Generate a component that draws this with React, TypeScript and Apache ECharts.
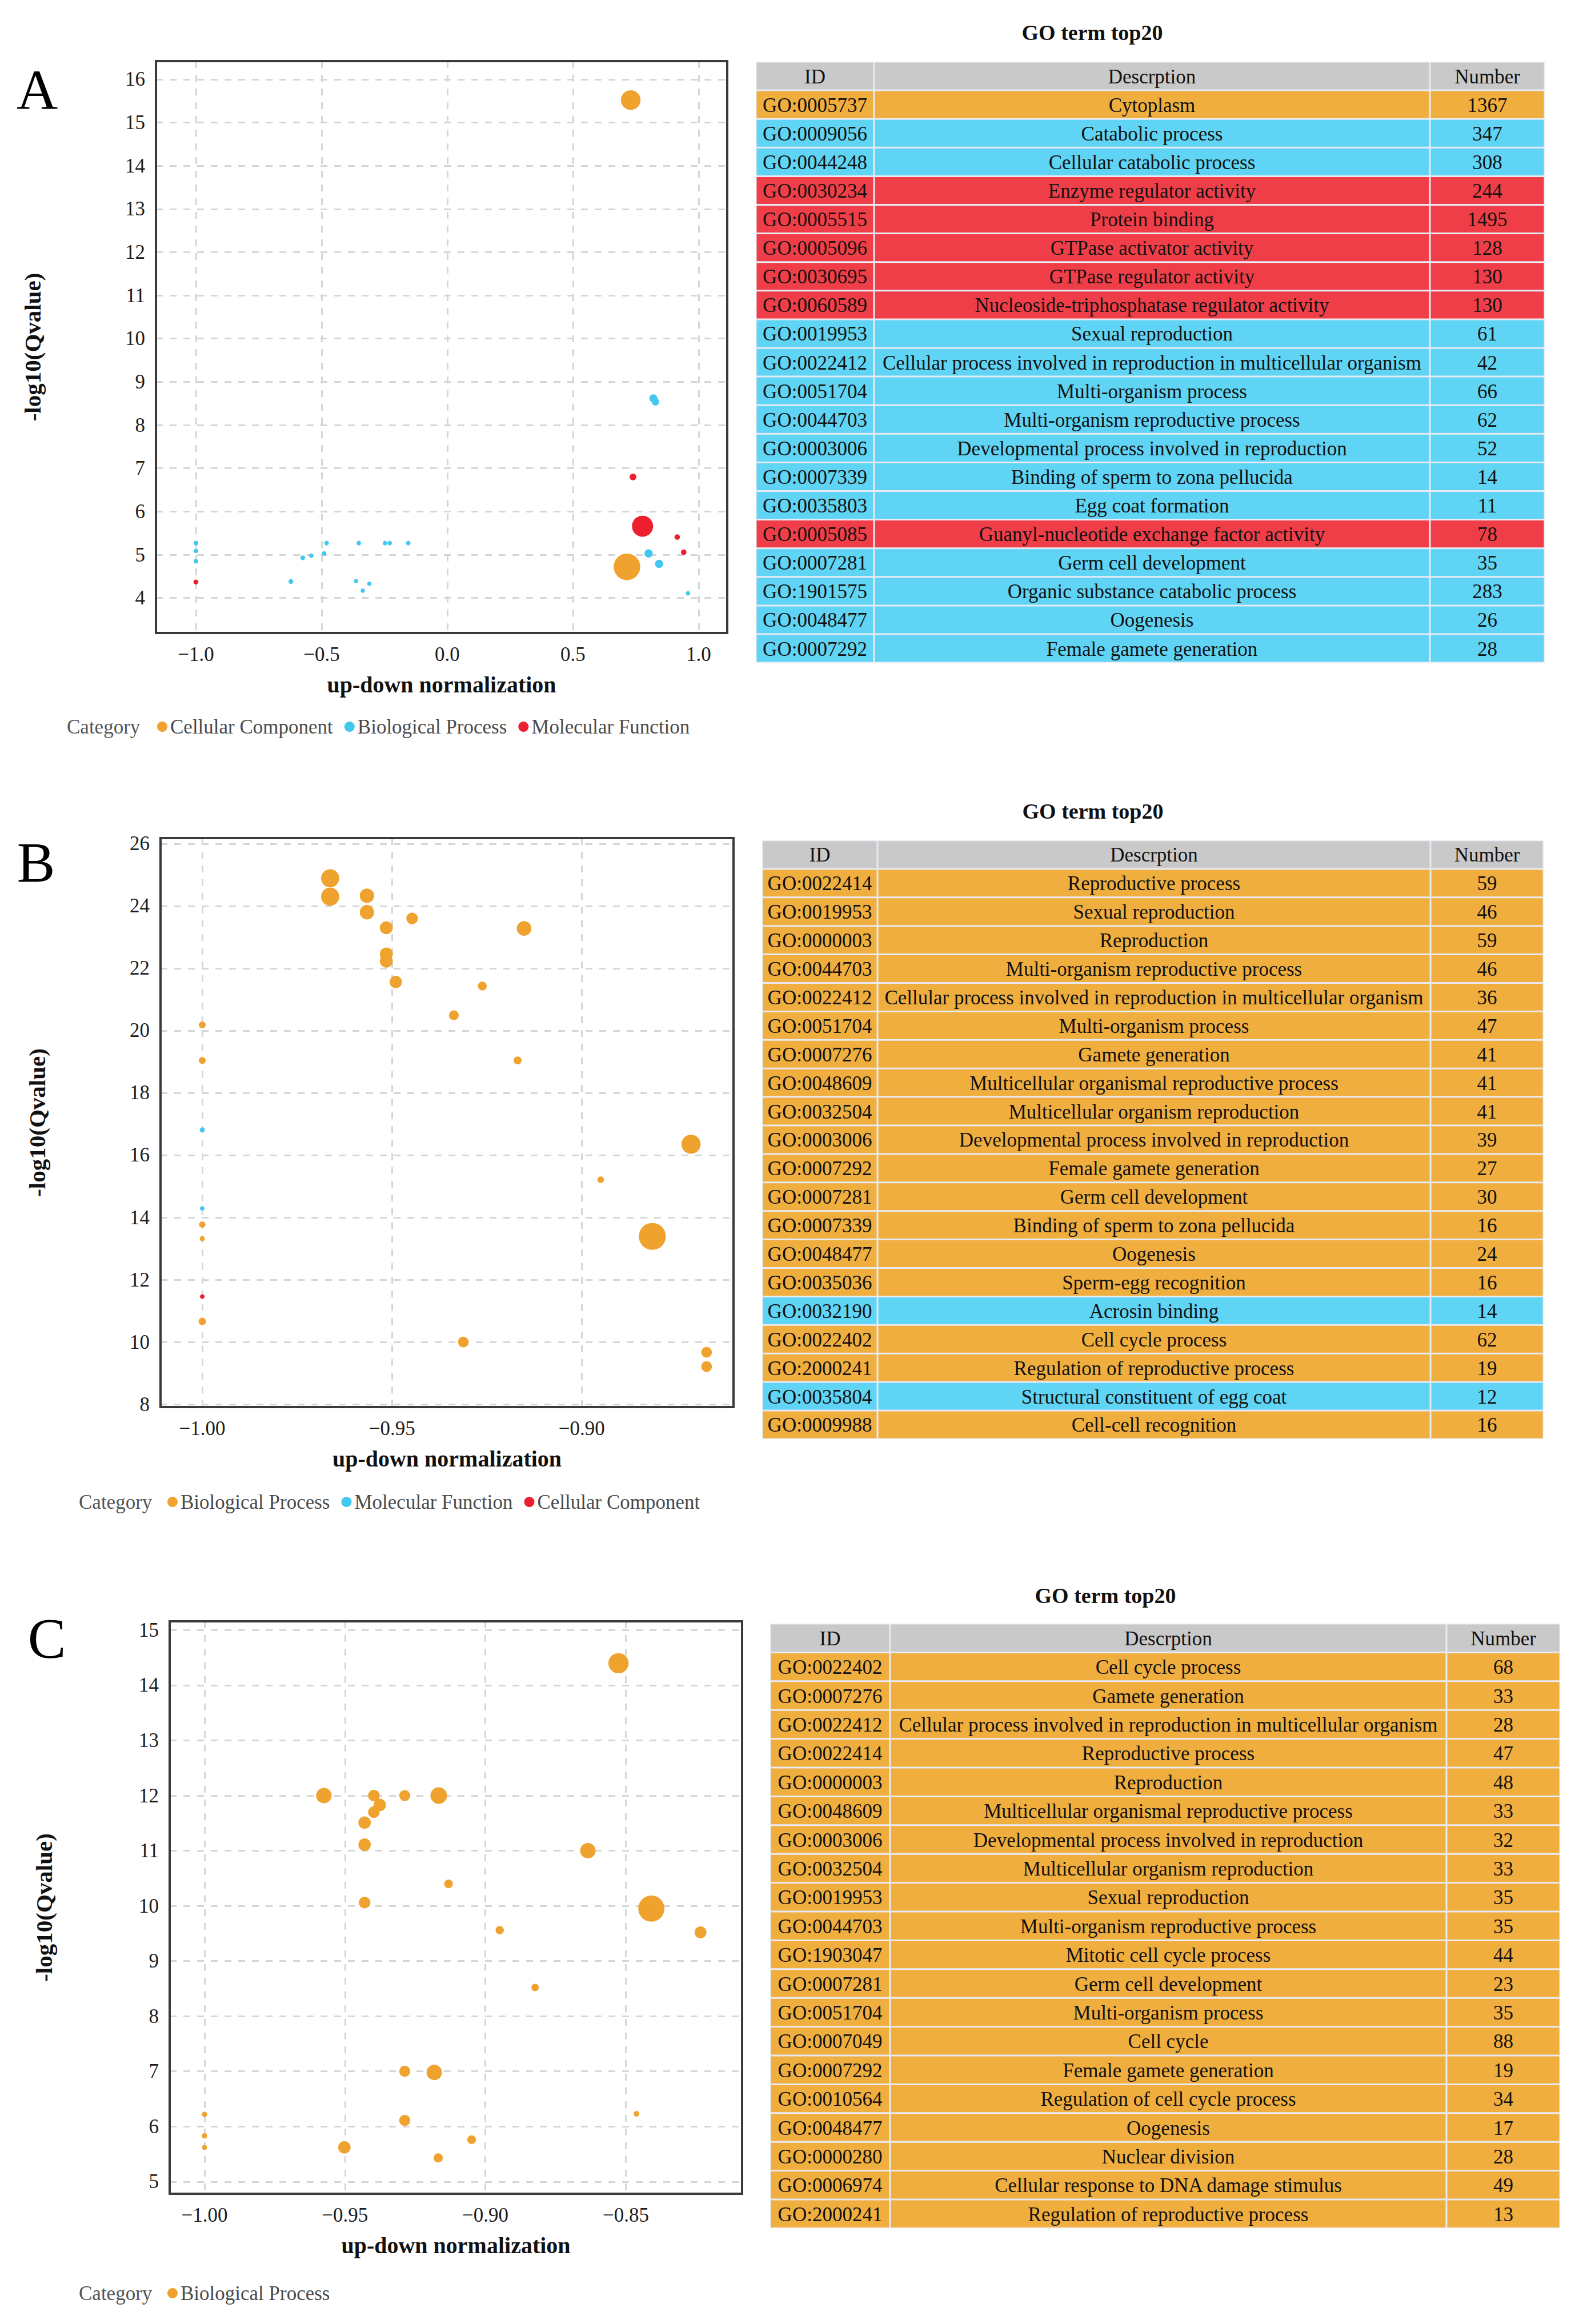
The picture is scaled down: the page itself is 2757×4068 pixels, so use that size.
import React, { useEffect, useRef } from "react";
import * as echarts from "echarts";

const FONT = '"Liberation Serif", "Times New Roman", Times, serif';

// ---------------- Scatter data: [up-down normalization, -log10(Qvalue), gene number]
// Panel A
const aCellularComponent: number[][] = [
  [0.73, 15.52, 1367],
  [0.715, 4.72, 1975],
];
const aBiologicalProcess: number[][] = [
  [0.82, 8.62, 347],
  [0.828, 8.54, 308],
  [0.801, 5.03, 375],
  [0.843, 4.79, 375],
  [0.958, 4.11, 35],
  [-1.0, 5.27, 61],
  [-1.0, 5.09, 42],
  [-1.0, 4.85, 52],
  [-0.622, 4.38, 66],
  [-0.575, 4.93, 62],
  [-0.541, 4.98, 40],
  [-0.49, 5.03, 45],
  [-0.48, 5.27, 52],
  [-0.352, 5.27, 50],
  [-0.363, 4.39, 26],
  [-0.336, 4.17, 28],
  [-0.31, 4.33, 35],
  [-0.248, 5.27, 50],
  [-0.229, 5.27, 50],
  [-0.155, 5.27, 50],
];
const aMolecularFunction: number[][] = [
  [0.739, 6.8, 244],
  [0.777, 5.66, 1495],
  [0.915, 5.41, 130],
  [0.941, 5.06, 128],
  [-1.0, 4.37, 78],
];

// Panel B
const bBiologicalProcess: number[][] = [
  [-0.9663, 24.89, 59],
  [-0.9663, 24.3, 59],
  [-0.9566, 24.33, 46],
  [-0.9566, 23.8, 46],
  [-0.9447, 23.6, 36],
  [-0.9515, 23.3, 41],
  [-0.9152, 23.28, 47],
  [-0.9515, 22.46, 41],
  [-0.9515, 22.23, 41],
  [-0.949, 21.56, 39],
  [-0.9262, 21.43, 27],
  [-0.9337, 20.49, 30],
  [-1.0, 20.18, 20],
  [-0.9169, 19.04, 24],
  [-1.0, 19.04, 20],
  [-0.8712, 16.35, 62],
  [-0.895, 15.21, 19],
  [-1.0, 13.77, 18],
  [-0.8814, 13.39, 89],
  [-1.0, 13.32, 14],
  [-1.0, 10.66, 22],
  [-0.9312, 10.0, 33],
  [-0.8671, 9.67, 33],
  [-0.8671, 9.21, 33],
];
const bMolecularFunction: number[][] = [
  [-1.0, 16.81, 14],
  [-1.0, 14.29, 12],
];
const bCellularComponent: number[][] = [[-1.0, 11.46, 12]];

// Panel C
const cBiologicalProcess: number[][] = [
  [-0.8526, 14.4, 68],
  [-0.9575, 12.0, 52],
  [-0.9397, 12.0, 39],
  [-0.9287, 12.0, 37],
  [-0.9166, 12.0, 56],
  [-0.9376, 11.83, 42],
  [-0.9397, 11.7, 39],
  [-0.943, 11.51, 42],
  [-0.943, 11.11, 42],
  [-0.8635, 11.0, 52],
  [-0.9131, 10.4, 29],
  [-0.943, 10.06, 39],
  [-0.8409, 9.95, 88],
  [-0.8949, 9.56, 28],
  [-0.8234, 9.52, 40],
  [-0.8823, 8.52, 25],
  [-0.9287, 7.0, 37],
  [-0.9182, 6.98, 52],
  [-1.0, 6.22, 18],
  [-0.8462, 6.23, 19],
  [-0.9287, 6.11, 37],
  [-1.0, 5.83, 18],
  [-1.0, 5.62, 17],
  [-0.9502, 5.62, 42],
  [-0.9049, 5.76, 29],
  [-0.9168, 5.43, 31],
];

// ---------------- Tables
const tableHeader = ["ID", "Descrption", "Number"];

const aIds = [
  "GO:0005737", "GO:0009056", "GO:0044248", "GO:0030234", "GO:0005515",
  "GO:0005096", "GO:0030695", "GO:0060589", "GO:0019953", "GO:0022412",
  "GO:0051704", "GO:0044703", "GO:0003006", "GO:0007339", "GO:0035803",
  "GO:0005085", "GO:0007281", "GO:1901575", "GO:0048477", "GO:0007292",
];
const aDesc = [
  "Cytoplasm", "Catabolic process", "Cellular catabolic process", "Enzyme regulator activity",
  "Protein binding", "GTPase activator activity", "GTPase regulator activity",
  "Nucleoside-triphosphatase regulator activity", "Sexual reproduction",
  "Cellular process involved in reproduction in multicellular organism",
  "Multi-organism process", "Multi-organism reproductive process",
  "Developmental process involved in reproduction", "Binding of sperm to zona pellucida",
  "Egg coat formation", "Guanyl-nucleotide exchange factor activity", "Germ cell development",
  "Organic substance catabolic process", "Oogenesis", "Female gamete generation",
];
const aNum = [1367, 347, 308, 244, 1495, 128, 130, 130, 61, 42, 66, 62, 52, 14, 11, 78, 35, 283, 26, 28];
const aCat = ["CC", "BP", "BP", "MF", "MF", "MF", "MF", "MF", "BP", "BP", "BP", "BP", "BP", "BP", "BP", "MF", "BP", "BP", "BP", "BP"];

const bIds = [
  "GO:0022414", "GO:0019953", "GO:0000003", "GO:0044703", "GO:0022412",
  "GO:0051704", "GO:0007276", "GO:0048609", "GO:0032504", "GO:0003006",
  "GO:0007292", "GO:0007281", "GO:0007339", "GO:0048477", "GO:0035036",
  "GO:0032190", "GO:0022402", "GO:2000241", "GO:0035804", "GO:0009988",
];
const bDesc = [
  "Reproductive process", "Sexual reproduction", "Reproduction", "Multi-organism reproductive process",
  "Cellular process involved in reproduction in multicellular organism", "Multi-organism process",
  "Gamete generation", "Multicellular organismal reproductive process",
  "Multicellular organism reproduction", "Developmental process involved in reproduction",
  "Female gamete generation", "Germ cell development", "Binding of sperm to zona pellucida",
  "Oogenesis", "Sperm-egg recognition", "Acrosin binding", "Cell cycle process",
  "Regulation of reproductive process", "Structural constituent of egg coat", "Cell-cell recognition",
];
const bNum = [59, 46, 59, 46, 36, 47, 41, 41, 41, 39, 27, 30, 16, 24, 16, 14, 62, 19, 12, 16];
const bCat = ["BP", "BP", "BP", "BP", "BP", "BP", "BP", "BP", "BP", "BP", "BP", "BP", "BP", "BP", "BP", "MF", "BP", "BP", "MF", "BP"];

const cIds = [
  "GO:0022402", "GO:0007276", "GO:0022412", "GO:0022414", "GO:0000003",
  "GO:0048609", "GO:0003006", "GO:0032504", "GO:0019953", "GO:0044703",
  "GO:1903047", "GO:0007281", "GO:0051704", "GO:0007049", "GO:0007292",
  "GO:0010564", "GO:0048477", "GO:0000280", "GO:0006974", "GO:2000241",
];
const cDesc = [
  "Cell cycle process", "Gamete generation",
  "Cellular process involved in reproduction in multicellular organism", "Reproductive process",
  "Reproduction", "Multicellular organismal reproductive process",
  "Developmental process involved in reproduction", "Multicellular organism reproduction",
  "Sexual reproduction", "Multi-organism reproductive process", "Mitotic cell cycle process",
  "Germ cell development", "Multi-organism process", "Cell cycle", "Female gamete generation",
  "Regulation of cell cycle process", "Oogenesis", "Nuclear division",
  "Cellular response to DNA damage stimulus", "Regulation of reproductive process",
];
const cNum = [68, 33, 28, 47, 48, 33, 32, 33, 35, 35, 44, 23, 35, 88, 19, 34, 17, 28, 49, 13];
const cCat = Array(20).fill("BP");

// ---------------- Styles
const ORANGE = "#EFA22E";
const CYAN = "#44C7EF";
const RED = "#EC1F2E";
const ROW_ORANGE = "#F0AE3E";
const ROW_BLUE = "#5FD4F4";
const ROW_RED = "#EF3E48";
const ROW_HEADER = "#C9C9C9";
const ROW_GAP = "#E9EBF4";

type SeriesDef = { name: string; data: number[][]; color: string };
type Panel = {
  key: string;
  grid: { left: number; top: number; width: number; height: number };
  x: { min: number; max: number; step: number; dec: number };
  y: { min: number; max: number; step: number };
  yNameGap: number;
  size: (n: number) => number;
  series: SeriesDef[];
  legend: { left: number; top: number };
  category: { x: number; y: number };
  letter: { text: string; x: number; y: number };
  table: {
    cols: number[];
    top: number;
    rowH: number;
    titleX: number;
    titleY: number;
    ids: string[];
    desc: string[];
    num: number[];
    cat: string[];
    colors: Record<string, string>;
  };
};

const panels: Panel[] = [
  {
    key: "A",
    grid: { left: 273, top: 107, width: 1000, height: 1001 },
    x: { min: -1.159, max: 1.114, step: 0.5, dec: 1 },
    y: { min: 3.19, max: 16.42, step: 1 },
    yNameGap: 196,
    size: (n) => 7 + 0.02 * n,
    series: [
      { name: "Cellular Component", data: aCellularComponent, color: ORANGE },
      { name: "Biological Process", data: aBiologicalProcess, color: CYAN },
      { name: "Molecular Function", data: aMolecularFunction, color: RED },
    ],
    legend: { left: 275, top: 1252 },
    category: { x: 117, y: 1272 },
    letter: { text: "A", x: 65, y: 157 },
    table: {
      cols: [1323, 1530, 2503, 2704],
      top: 108,
      rowH: 50.1,
      titleX: 1912,
      titleY: 57,
      ids: aIds,
      desc: aDesc,
      num: aNum,
      cat: aCat,
      colors: { CC: ROW_ORANGE, BP: ROW_BLUE, MF: ROW_RED },
    },
  },
  {
    key: "B",
    grid: { left: 281, top: 1467, width: 1003, height: 996 },
    x: { min: -1.011, max: -0.86, step: 0.05, dec: 2 },
    y: { min: 7.91, max: 26.18, step: 2 },
    yNameGap: 196,
    size: (n) => 1.8 + 0.51 * n,
    series: [
      { name: "Biological Process", data: bBiologicalProcess, color: ORANGE },
      { name: "Molecular Function", data: bMolecularFunction, color: CYAN },
      { name: "Cellular Component", data: bCellularComponent, color: RED },
    ],
    legend: { left: 293, top: 2609 },
    category: { x: 138, y: 2629 },
    letter: { text: "B", x: 63, y: 1509 },
    table: {
      cols: [1334, 1536, 2504, 2702],
      top: 1471,
      rowH: 49.9,
      titleX: 1913,
      titleY: 1420,
      ids: bIds,
      desc: bDesc,
      num: bNum,
      cat: bCat,
      colors: { BP: ROW_ORANGE, MF: ROW_BLUE },
    },
  },
  {
    key: "C",
    grid: { left: 297, top: 2838, width: 1002, height: 1002 },
    x: { min: -1.0124, max: -0.8086, step: 0.05, dec: 2 },
    y: { min: 4.78, max: 15.16, step: 1 },
    yNameGap: 200,
    size: (n) => 0.52 * n,
    series: [{ name: "Biological Process", data: cBiologicalProcess, color: ORANGE }],
    legend: { left: 293, top: 3994 },
    category: { x: 138, y: 4014 },
    letter: { text: "C", x: 82, y: 2867 },
    table: {
      cols: [1348, 1558, 2532, 2731],
      top: 2842,
      rowH: 50.4,
      titleX: 1935,
      titleY: 2793,
      ids: cIds,
      desc: cDesc,
      num: cNum,
      cat: cCat,
      colors: { BP: ROW_ORANGE },
    },
  },
];

function tickFormatter(step: number, dec: number) {
  return (v: number) => {
    const k = v / step;
    if (Math.abs(k - Math.round(k)) > 1e-6) return "";
    let r = Math.round(k) * step;
    if (Math.abs(r) < 1e-9) r = 0;
    const s = Math.abs(r).toFixed(dec);
    return r < 0 ? "\u2212" + s : s;
  };
}

function textEl(text: string, x: number, y: number, size: number, opts: any = {}) {
  return {
    type: "text",
    silent: true,
    z: 50,
    style: {
      text,
      x,
      y,
      fontSize: size,
      fontFamily: FONT,
      fontWeight: opts.weight || "normal",
      fill: opts.fill || "#111",
      align: opts.align || "center",
      textAlign: opts.align || "center",
      verticalAlign: "middle",
      textVerticalAlign: "middle",
    },
  };
}

function tableElements(p: Panel) {
  const t = p.table;
  const els: any[] = [];
  els.push(textEl("GO term top20", t.titleX, t.titleY, 38, { weight: "bold" }));
  const nRows = t.ids.length + 1;
  els.push({
    type: "rect",
    silent: true,
    shape: { x: t.cols[0], y: t.top, width: t.cols[3] - t.cols[0], height: t.rowH * nRows },
    style: { fill: ROW_GAP },
  });
  const rows: string[][] = [tableHeader];
  t.ids.forEach((id, i) => rows.push([id, t.desc[i], String(t.num[i])]));
  rows.forEach((r, ri) => {
    const y = t.top + ri * t.rowH;
    const fill = ri === 0 ? ROW_HEADER : t.colors[t.cat[ri - 1]];
    for (let ci = 0; ci < 3; ci++) {
      const a = t.cols[ci];
      const b = t.cols[ci + 1];
      els.push({
        type: "rect",
        silent: true,
        shape: { x: a + 1.5, y: y + 1.5, width: b - a - 3, height: t.rowH - 3 },
        style: { fill },
      });
      els.push(textEl(r[ci], (a + b) / 2, y + t.rowH / 2 + 1, 35, { fill: "#111" }));
    }
  });
  return els;
}

function buildOption() {
  const grid: any[] = [];
  const xAxis: any[] = [];
  const yAxis: any[] = [];
  const series: any[] = [];
  const legend: any[] = [];
  const graphics: any[] = [];

  panels.forEach((p, i) => {
    grid.push({
      left: p.grid.left,
      top: p.grid.top,
      width: p.grid.width,
      height: p.grid.height,
      show: false,
      containLabel: false,
      outerBoundsMode: "none",
    });
    const splitLine = {
      show: true,
      lineStyle: { color: "#d6d6d6", width: 3, type: [12, 12] },
    };
    xAxis.push({
      type: "value",
      gridIndex: i,
      min: p.x.min,
      max: p.x.max,
      minInterval: p.x.step,
      maxInterval: p.x.step,
      axisLine: { show: false },
      axisTick: { show: false },
      splitLine,
      axisLabel: {
        fontSize: 35,
        color: "#1c1c1c",
        fontFamily: FONT,
        margin: 20,
        formatter: tickFormatter(p.x.step, p.x.dec),
      },
      name: "up-down normalization",
      nameLocation: "middle",
      nameGap: 70,
      nameTextStyle: { fontSize: 40, fontWeight: "bold", color: "#111", fontFamily: FONT },
    });
    yAxis.push({
      type: "value",
      gridIndex: i,
      min: p.y.min,
      max: p.y.max,
      minInterval: p.y.step,
      maxInterval: p.y.step,
      axisLine: { show: false },
      axisTick: { show: false },
      splitLine,
      axisLabel: {
        fontSize: 35,
        color: "#1c1c1c",
        fontFamily: FONT,
        margin: 19,
        formatter: tickFormatter(p.y.step, 0),
      },
      name: "-log10(Qvalue)",
      nameLocation: "middle",
      nameRotate: 90,
      nameGap: p.yNameGap,
      nameTextStyle: { fontSize: 41, fontWeight: "bold", color: "#111", fontFamily: FONT },
    });
    const names: string[] = [];
    p.series.forEach((s) => {
      const nm = p.key + "|" + s.name;
      names.push(nm);
      series.push({
        type: "scatter",
        name: nm,
        xAxisIndex: i,
        yAxisIndex: i,
        data: s.data,
        symbol: "circle",
        symbolSize: (val: number[]) => Math.max(5, p.size(val[2])),
        itemStyle: { color: s.color, opacity: 1 },
        emphasis: { disabled: true },
        silent: true,
      });
    });
    legend.push({
      data: names,
      left: p.legend.left,
      top: p.legend.top,
      orient: "horizontal",
      icon: "circle",
      itemWidth: 18,
      itemHeight: 18,
      itemGap: 20,
      padding: 0,
      selectedMode: false,
      formatter: (name: string) => name.split("|")[1],
      textStyle: { fontSize: 35, color: "#4a4a4a", fontFamily: FONT, lineHeight: 40 },
    });
    // plot frame (solid dark border drawn above the dashed split lines)
    graphics.push({
      type: "rect",
      silent: true,
      z: 100,
      shape: { x: p.grid.left, y: p.grid.top, width: p.grid.width, height: p.grid.height },
      style: { fill: "none", stroke: "#3a3a3a", lineWidth: 4 },
    });
    graphics.push(textEl("Category", p.category.x, p.category.y, 35, { align: "left", fill: "#555" }));
    graphics.push(textEl(p.letter.text, p.letter.x, p.letter.y, 100, { fill: "#000" }));
    tableElements(p).forEach((e) => graphics.push(e));
  });

  return {
    animation: false,
    backgroundColor: "#ffffff",
    textStyle: { fontFamily: FONT },
    grid,
    xAxis,
    yAxis,
    series,
    legend,
    graphic: { elements: graphics },
  };
}

export default function App() {
  const ref = useRef<HTMLDivElement>(null);
  useEffect(() => {
    document.body.style.margin = "0";
    if (!ref.current) return;
    const chart = echarts.init(ref.current, undefined, { renderer: "svg" });
    chart.setOption(buildOption() as any);
    return () => chart.dispose();
  }, []);
  return <div ref={ref} style={{ width: 2757, height: 4068, background: "#fff" }} />;
}
